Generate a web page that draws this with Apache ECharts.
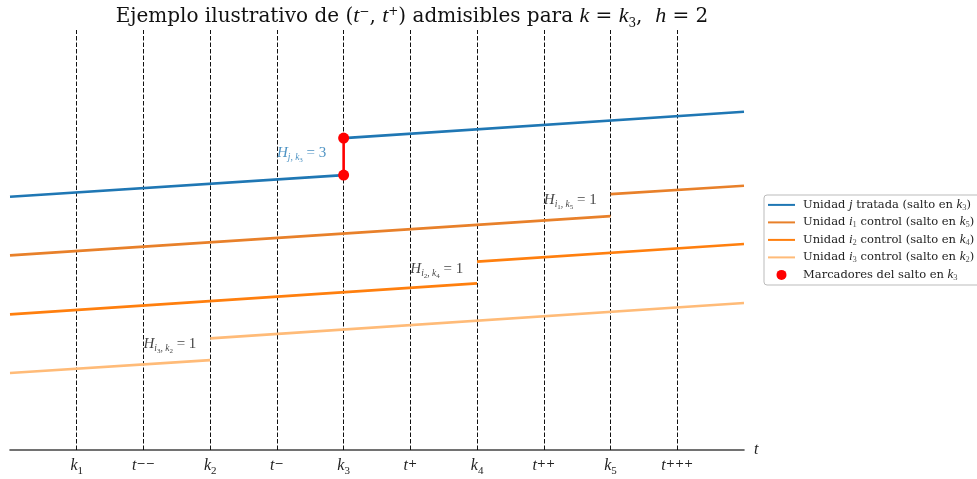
<!DOCTYPE html>
<html><head><meta charset="utf-8">
<script src="https://cdn.jsdelivr.net/npm/echarts@6/dist/echarts.min.js"></script>
<style>html,body{margin:0;padding:0;background:#fff}#c{width:977px;height:479px}</style>
</head><body><div id="c"></div>
<script>
// ---- data ----
const tickPositions = [1, 2, 3, 4, 5, 6, 7, 8, 9, 10];
const tickLabels = ['{v|k}{s|1}', '{v|t}{p|−−}', '{v|k}{s|2}', '{v|t}{p|−}', '{v|k}{s|3}',
                    '{v|t}{p|+}', '{v|k}{s|4}', '{v|t}{p|++}', '{v|k}{s|5}', '{v|t}{p|+++}'];
const seriesNames = ['Unidad j tratada (salto en k3)', 'Unidad i1 control (salto en k5)',
                     'Unidad i2 control (salto en k4)', 'Unidad i3 control (salto en k2)'];
const legendLabels = ['{n|Unidad }{m|j}{n| tratada (salto en }{m|k}{s|3}{n|)}',
                      '{n|Unidad }{m|i}{s|1}{n| control (salto en }{m|k}{s|5}{n|)}',
                      '{n|Unidad }{m|i}{s|2}{n| control (salto en }{m|k}{s|4}{n|)}',
                      '{n|Unidad }{m|i}{s|3}{n| control (salto en }{m|k}{s|2}{n|)}'];
const markerName = 'Marcadores del salto en k3';
const markerLabel = '{n|Marcadores del salto en }{m|k}{s|3}';
const xStart = 0, xEnd = 11;
const jumpAt    = [5, 9, 7, 3];
const preStart  = [4.293, 3.300, 2.300, 1.305];
const preEnd    = [4.661, 3.966, 2.825, 1.525];
const postStart = [5.288, 4.339, 3.192, 1.893];
const postEnd   = [5.734, 4.480, 3.492, 2.492];
const colors = ['#1f77b4', '#e8802a', '#ff7f0e', '#ffbb78'];
const annotX = [4, 2, 6, 8];
const annotY = [5.00, 1.76, 3.03, 4.20];
const annotText = ['{m|H}{s|j, k}{ss|3}{n| = 3}', '{m|H}{s|i}{ss|3}{s|, k}{ss|2}{n| = 1}',
                   '{m|H}{s|i}{ss|2}{s|, k}{ss|4}{n| = 1}', '{m|H}{s|i}{ss|1}{s|, k}{ss|5}{n| = 1}'];
const annotColor = ['#1f77b4', '#111', '#111', '#111'];

const SERIF = 'DejaVu Serif';
const MATH = 'Liberation Serif';

const lineSeries = seriesNames.map((name, i) => ({
  name, type: 'line', symbol: 'none', z: 3,
  lineStyle: { color: colors[i], width: 2.7 }, itemStyle: { color: colors[i] },
  data: [[xStart, preStart[i]], [jumpAt[i], preEnd[i]], [jumpAt[i], '-'],
         [jumpAt[i], postStart[i]], [xEnd, postEnd[i]]],
  animation: false
}));
lineSeries[0].markLine = {
  symbol: 'none', silent: true, z: 1, label: { show: false },
  lineStyle: { type: [4.5, 2], color: '#111', width: 1 },
  data: tickPositions.map(x => ({ xAxis: x })), animation: false
};

const annotRich = {
  m: { fontFamily: MATH, fontStyle: 'italic', fontSize: 15, lineHeight: 17, verticalAlign: 'bottom', padding: [0, 0, 3, 0] },
  s: { fontFamily: MATH, fontStyle: 'italic', fontSize: 9.5, lineHeight: 10, verticalAlign: 'bottom', padding: [0, 0, 1, 0] },
  ss: { fontFamily: MATH, fontSize: 7, lineHeight: 8, verticalAlign: 'bottom' },
  n: { fontFamily: MATH, fontSize: 15, lineHeight: 17, verticalAlign: 'bottom', padding: [0, 0, 3, 0] }
};

const option = {
  backgroundColor: '#fff',
  animation: false,
  title: {
    text: '{n|Ejemplo ilustrativo de (}{m|t}{p|−}{n|, }{m|t}{p|+}{n|) admisibles para }{m|k}{n| = }{m|k}{s|3}{n|,  }{m|h}{n| = 2}',
    left: 407, top: 1, textAlign: 'center',
    textStyle: {
      fontWeight: 'normal',
      rich: {
        n: { fontFamily: SERIF, fontWeight: 'normal', fontSize: 20, color: '#111', lineHeight: 24, verticalAlign: 'bottom', padding: [0, 0, 3, 0] },
        m: { fontFamily: MATH, fontWeight: 'normal', fontStyle: 'italic', fontSize: 22, color: '#111', lineHeight: 24, verticalAlign: 'bottom', padding: [0, 0, 3, 0] },
        p: { fontFamily: SERIF, fontWeight: 'normal', fontSize: 12, color: '#111', lineHeight: 13, verticalAlign: 'top' },
        s: { fontFamily: SERIF, fontWeight: 'normal', fontSize: 12, color: '#111', lineHeight: 13, verticalAlign: 'bottom' }
      }
    }
  },
  legend: {
    orient: 'vertical', left: 764, top: 195,
    data: seriesNames.map(n => ({ name: n, itemStyle: { color: 'rgba(0,0,0,0)', borderWidth: 0, opacity: 0 } }))
      .concat([{ name: markerName, icon: 'circle' }]),
    itemWidth: 27, itemHeight: 10, itemGap: 3.5,
    padding: [3, 8, 3, 3],
    borderColor: '#bbb', borderWidth: 1, borderRadius: 3, backgroundColor: '#fff',
    formatter: name => name === markerName ? markerLabel : legendLabels[seriesNames.indexOf(name)],
    textStyle: {
      padding: [0, 0, 0, 3],
      rich: {
        n: { fontFamily: SERIF, fontSize: 11.5, color: '#222', lineHeight: 14.2, verticalAlign: 'bottom', padding: [0, 0, 1, 0] },
        m: { fontFamily: MATH, fontStyle: 'italic', fontSize: 13, color: '#222', lineHeight: 14.2, verticalAlign: 'bottom', padding: [0, 0, 1, 0] },
        s: { fontFamily: MATH, fontSize: 8.5, color: '#555', lineHeight: 9, verticalAlign: 'bottom' }
      }
    }
  },
  grid: { left: 10, right: 233, top: 30, bottom: 29, containLabel: false },
  xAxis: {
    type: 'value', min: xStart, max: xEnd, interval: 1,
    name: 't', nameLocation: 'end', nameGap: 10,
    nameTextStyle: { fontFamily: MATH, fontStyle: 'italic', fontSize: 16, color: '#222', verticalAlign: 'middle' },
    axisLine: { show: true, onZero: false, lineStyle: { color: '#444', width: 1.6 } },
    axisTick: { show: false },
    splitLine: { show: false },
    axisLabel: {
      margin: 9, showMinLabel: false, showMaxLabel: false,
      formatter: v => { const i = tickPositions.indexOf(v); return i >= 0 ? tickLabels[i] : ''; },
      rich: {
        v: { fontFamily: MATH, fontStyle: 'italic', fontSize: 16, color: '#222', lineHeight: 18, verticalAlign: 'bottom', padding: [0, 0, 3, 0] },
        s: { fontFamily: MATH, fontSize: 11, color: '#222', lineHeight: 12, verticalAlign: 'bottom' },
        p: { fontFamily: SERIF, fontSize: 11, color: '#222', lineHeight: 11, verticalAlign: 'top' }
      }
    }
  },
  yAxis: { type: 'value', min: 0, max: 7.12, show: false, splitLine: { show: false } },
  series: lineSeries.concat([
    {
      name: 'salto', type: 'line', symbol: 'none', z: 4,
      lineStyle: { color: '#ff0000', width: 2.6 },
      data: [[jumpAt[0], preEnd[0]], [jumpAt[0], postStart[0]]]
    },
    {
      name: markerName, type: 'scatter', symbol: 'circle', symbolSize: 11, z: 5,
      itemStyle: { color: '#ff0000', opacity: 1 },
      data: [[jumpAt[0], preEnd[0]], [jumpAt[0], postStart[0]]]
    },
    {
      name: 'anotaciones', type: 'scatter', symbolSize: 0, z: 6, silent: true,
      data: annotX.map((x, i) => ({
        value: [x, annotY[i]],
        label: {
          show: true, position: [0, 0], align: 'left', verticalAlign: 'middle',
          formatter: annotText[i],
          rich: Object.fromEntries(Object.entries(annotRich).map(([k, s]) => [k, Object.assign({ color: annotColor[i] }, s)]))
        }
      }))
    }
  ])
};
const chart = echarts.init(document.getElementById('c'), null, { renderer: 'canvas' });
chart.setOption(option);
</script></body></html>
